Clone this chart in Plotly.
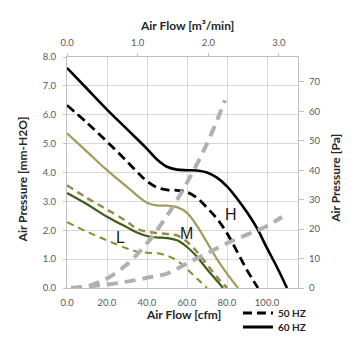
import plotly.graph_objects as go

# ---- data ----
cfm_h60 = [0, 10, 20, 30, 40, 45, 50, 55, 60, 65, 70, 75, 80, 85, 90, 95, 100, 105, 110]
p_h60 = [7.62, 6.9, 6.18, 5.5, 4.82, 4.45, 4.2, 4.1, 4.08, 4.07, 4.0, 3.82, 3.52, 3.1, 2.62, 2.07, 1.38, 0.72, 0]

cfm_h50 = [0, 10, 20, 30, 36.5, 40, 45, 50, 55, 60, 65, 70, 75, 80, 85, 90, 95.5]
p_h50 = [6.33, 5.72, 5.07, 4.38, 3.92, 3.7, 3.48, 3.4, 3.38, 3.32, 3.12, 2.78, 2.4, 1.9, 1.27, 0.62, 0]

cfm_m60 = [0, 10, 20, 30, 40, 45, 50, 55, 60, 65, 70, 75, 80, 85.5]
p_m60 = [5.36, 4.72, 4.08, 3.5, 2.95, 2.86, 2.85, 2.8, 2.6, 2.15, 1.58, 1.0, 0.5, 0]

cfm_m50 = [0, 10, 20, 30, 35, 40, 45, 50, 55, 60, 65, 70, 75, 80]
p_m50 = [3.56, 3.12, 2.72, 2.3, 2.05, 1.95, 1.9, 1.87, 1.82, 1.6, 1.25, 0.82, 0.38, 0]

cfm_l60 = [0, 10, 20, 30, 35, 40, 45, 50, 55, 60, 65, 70, 75, 78]
p_l60 = [3.29, 2.9, 2.47, 2.1, 1.92, 1.8, 1.75, 1.73, 1.65, 1.42, 1.08, 0.65, 0.25, 0]

cfm_l50 = [0, 10, 20, 30, 35, 40, 45, 50, 55, 60, 65, 70]
p_l50 = [2.28, 1.95, 1.65, 1.37, 1.26, 1.22, 1.2, 1.12, 0.95, 0.66, 0.33, 0]

cfm_sys_hi = [2, 10, 20, 30, 40, 50, 60, 70, 79]
p_sys_hi = [0, 0.06, 0.33, 0.82, 1.55, 2.5, 3.65, 5.0, 6.5]

cfm_sys_lo = [2, 20, 30, 40, 50, 60, 70, 80, 90, 100, 107.5]
p_sys_lo = [0, 0.12, 0.22, 0.35, 0.5, 0.85, 1.2, 1.55, 1.85, 2.15, 2.46]

cfm_ticks = [0, 20, 40, 60, 80, 100]
m3_ticks = [0, 1, 2, 3]
mm_ticks = [0, 1, 2, 3, 4, 5, 6, 7, 8]
pa_ticks = [0, 10, 20, 30, 40, 50, 60, 70]

labels = ["L", "M", "H"]
label_cfm = [26.5, 59.5, 82]
label_p = [1.76, 1.9, 2.56]

CFM_PER_M3MIN = 35.3147
PA_PER_MMH2O = 9.80665
X_MAX = 115.5
Y_MAX = 8.0

fig = go.Figure()

def curve(x, y, color, width, dash=None):
    fig.add_trace(go.Scatter(
        x=x, y=y, mode="lines",
        line=dict(color=color, width=width, dash=dash, shape="spline", smoothing=1.0),
        showlegend=False, hoverinfo="skip"))

curve(cfm_l50, p_l50, "#6f9b2c", 2.0, "7px,5px")
curve(cfm_l60, p_l60, "#3e5d16", 2.2)
curve(cfm_m50, p_m50, "#9c8a4c", 2.5, "7px,5px")
curve(cfm_m60, p_m60, "#a39d60", 2.3)
curve(cfm_h50, p_h50, "#000000", 2.8, "9px,5px")
curve(cfm_h60, p_h60, "#000000", 2.6)
curve(cfm_sys_hi, p_sys_hi, "#b0b0b0", 4, "11px,7px")
curve(cfm_sys_lo, p_sys_lo, "#b0b0b0", 4, "11px,7px")

# legend entries
fig.add_trace(go.Scatter(x=[None], y=[None], mode="lines", name="50 HZ",
                         line=dict(color="black", width=3, dash="9px,5px"), legend="legend"))
fig.add_trace(go.Scatter(x=[None], y=[None], mode="lines", name="60 HZ",
                         line=dict(color="black", width=3), legend="legend2"))
# secondary axes carrier
fig.add_trace(go.Scatter(x=[None], y=[None], xaxis="x2", yaxis="y2", mode="lines",
                         showlegend=False, hoverinfo="skip"))

tickfont = dict(family="Lato", size=9.5, color="#595959")
titlefont = dict(family="Lato", size=12, color="#262626")
grid = "#d9d9d9"
axline = "#bfbfbf"

fig.update_layout(
    width=355, height=355, autosize=False,
    margin=dict(l=67, r=57, t=57, b=67),
    paper_bgcolor="white", plot_bgcolor="white",
    xaxis=dict(range=[0, X_MAX], tickvals=cfm_ticks, tickformat=".1f",
               showgrid=True, gridcolor=grid, gridwidth=1, zeroline=False,
               showline=True, linecolor=axline, linewidth=1,
               ticks="", ticklabelstandoff=6, tickfont=tickfont),
    xaxis2=dict(range=[0, X_MAX / CFM_PER_M3MIN], tickvals=m3_ticks, tickformat=".1f",
                overlaying="x", side="top", anchor="y", showgrid=False, zeroline=False,
                showline=True, linecolor=axline, linewidth=1,
                ticks="outside", ticklen=3, tickcolor=axline, tickfont=tickfont,
                ticklabelstandoff=3),
    yaxis=dict(range=[0, Y_MAX], tickvals=mm_ticks, tickformat=".1f",
               showgrid=True, gridcolor=grid, gridwidth=1, zeroline=False,
               showline=True, linecolor=axline, linewidth=1,
               ticks="outside", ticklen=3, tickcolor=axline, tickfont=tickfont,
               ticklabelstandoff=5),
    yaxis2=dict(range=[0, Y_MAX * PA_PER_MMH2O], tickvals=pa_ticks, tickformat="d",
                overlaying="y", side="right", anchor="x", showgrid=False, zeroline=False,
                showline=True, linecolor=axline, linewidth=1,
                ticks="outside", ticklen=5, tickcolor=axline, tickfont=tickfont,
                ticklabelstandoff=3),
    legend=dict(x=0.74, y=-0.108, xanchor="left", yanchor="middle",
                font=dict(family="Lato", size=10, color="#262626", weight="bold"),
                bgcolor="rgba(0,0,0,0)"),
    legend2=dict(x=0.74, y=-0.169, xanchor="left", yanchor="middle",
                 font=dict(family="Lato", size=10, color="#262626", weight="bold"),
                 bgcolor="rgba(0,0,0,0)"),
)

ann = []
for t, xv, yv in zip(labels, label_cfm, label_p):
    ann.append(dict(x=xv, y=yv, xref="x", yref="y", text=t, showarrow=False,
                    font=dict(family="Liberation Sans", size=16, color="#1a1a1a")))
ann += [
    dict(x=0.504, y=-0.1126, xref="paper", yref="paper", text="<b>Air Flow [cfm]</b>",
         showarrow=False, font=titlefont, xanchor="center", yanchor="middle"),
    dict(x=0.5216, y=1.1385, xref="paper", yref="paper", text="<b>Air Flow [m³/min]</b>",
         showarrow=False, font=titlefont, xanchor="center", yanchor="middle"),
    dict(x=-0.1948, y=0.47, xref="paper", yref="paper", text="<b>Air Pressure [mm-H2O]</b>",
         showarrow=False, font=titlefont, textangle=-90, xanchor="center", yanchor="middle"),
    dict(x=1.1645, y=0.477, xref="paper", yref="paper", text="<b>Air Pressure [Pa]</b>",
         showarrow=False, font=titlefont, textangle=-90, xanchor="center", yanchor="middle"),
]
fig.update_layout(annotations=ann)

fig.write_html("out.html", config={"displayModeBar": False},
               post_script="document.body.style.margin='0px';")
